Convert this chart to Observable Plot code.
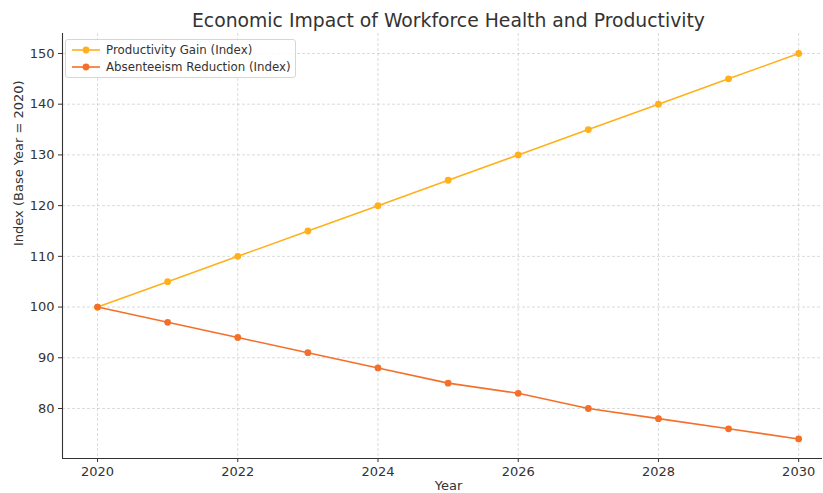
<!DOCTYPE html>
<html><head><meta charset="utf-8">
<script src="https://cdn.jsdelivr.net/npm/d3@7"></script>
<script src="https://cdn.jsdelivr.net/npm/@observablehq/plot@0.6"></script>
<style>
html,body{margin:0;padding:0;background:#fff;overflow:hidden;}
#wrap{position:relative;width:823px;height:493px;font-family:"DejaVu Sans",sans-serif;}
#legend{position:absolute;left:65px;top:39px;width:229px;height:37px;border:1px solid #d6d6d6;border-radius:3px;background:rgba(255,255,255,0.85);font-size:11.8px;color:#333;}
.row{position:absolute;left:6px;height:16px;display:flex;align-items:center;}
.row svg{margin-right:6px;}
</style></head><body>
<div id="wrap"></div>
<script>
const years = [2020,2021,2022,2023,2024,2025,2026,2027,2028,2029,2030];
const productivity = [100,105,110,115,120,125,130,135,140,145,150];
const absenteeism = [100,97,94,91,88,85,83,80,78,76,74];
const seriesNames = ["Productivity Gain (Index)","Absenteeism Reduction (Index)"];
const colors = ["#ffb01a","#f4702a"];
const xTicks = [2020,2022,2024,2026,2028,2030];
const yTicks = [80,90,100,110,120,130,140,150];

const data = [];
years.forEach((y,i)=>{
  data.push({year:y, value:productivity[i], s:seriesNames[0]});
  data.push({year:y, value:absenteeism[i], s:seriesNames[1]});
});
const xDom = [2019.5, 2030.34];
const yDom = [70.14, 153.94];

const chart = Plot.plot({
  width: 823, height: 493,
  marginLeft: 62, marginRight: 1, marginTop: 33, marginBottom: 35,
  style: {fontFamily: "DejaVu Sans, sans-serif", fontSize: "13px", color: "#333", background: "#fff"},
  x: {domain: xDom, ticks: xTicks, tickFormat: d=>String(d), label: null},
  y: {domain: yDom, ticks: yTicks, label: null},
  color: {domain: seriesNames, range: colors},
  marks: [
    Plot.gridX(xTicks, {stroke:"#b0b0b0", strokeOpacity:0.45, strokeDasharray:"3,2"}),
    Plot.gridY(yTicks, {stroke:"#b0b0b0", strokeOpacity:0.45, strokeDasharray:"3,2"}),
    Plot.ruleX([xDom[0]], {stroke:"#333", strokeWidth:1.1}),
    Plot.ruleY([yDom[0]], {stroke:"#333", strokeWidth:1.1}),
    Plot.axisX({ticks: xTicks, tickFormat: d=>String(d), tickSize: 4, tickPadding: 4, fontSize: 13, label: null}),
    Plot.axisY({ticks: yTicks, tickSize: 4, tickPadding: 4, fontSize: 13, label: null}),
    Plot.line(data, {x:"year", y:"value", stroke:"s", z:"s", strokeWidth:1.6}),
    Plot.dot(data, {x:"year", y:"value", fill:"s", r:3.4}),
    Plot.text(["Economic Impact of Workforce Health and Productivity"], {frameAnchor:"top", dy:-13, dx:6, fontSize:18.8, fill:"#333", lineAnchor:"middle"}),
    Plot.text(["Year"], {frameAnchor:"bottom", dy:27, dx:6, fontSize:13, fill:"#333", lineAnchor:"middle"}),
    Plot.text(["Index (Base Year = 2020)"], {frameAnchor:"left", dx:-44, rotate:-90, fontSize:13, fill:"#333", lineAnchor:"middle"})
  ]
});
const wrap = document.getElementById("wrap");
wrap.appendChild(chart);

const legend = document.createElement("div");
legend.id = "legend";
seriesNames.forEach((name,i)=>{
  const row = document.createElement("div");
  row.className = "row";
  row.style.top = (2 + i*17) + "px";
  row.innerHTML = `<svg width="28" height="10"><line x1="0" y1="5" x2="28" y2="5" stroke="${colors[i]}" stroke-width="1.6"/><circle cx="14" cy="5" r="3.4" fill="${colors[i]}"/></svg><span>${name}</span>`;
  legend.appendChild(row);
});
wrap.appendChild(legend);
</script>
</body></html>
